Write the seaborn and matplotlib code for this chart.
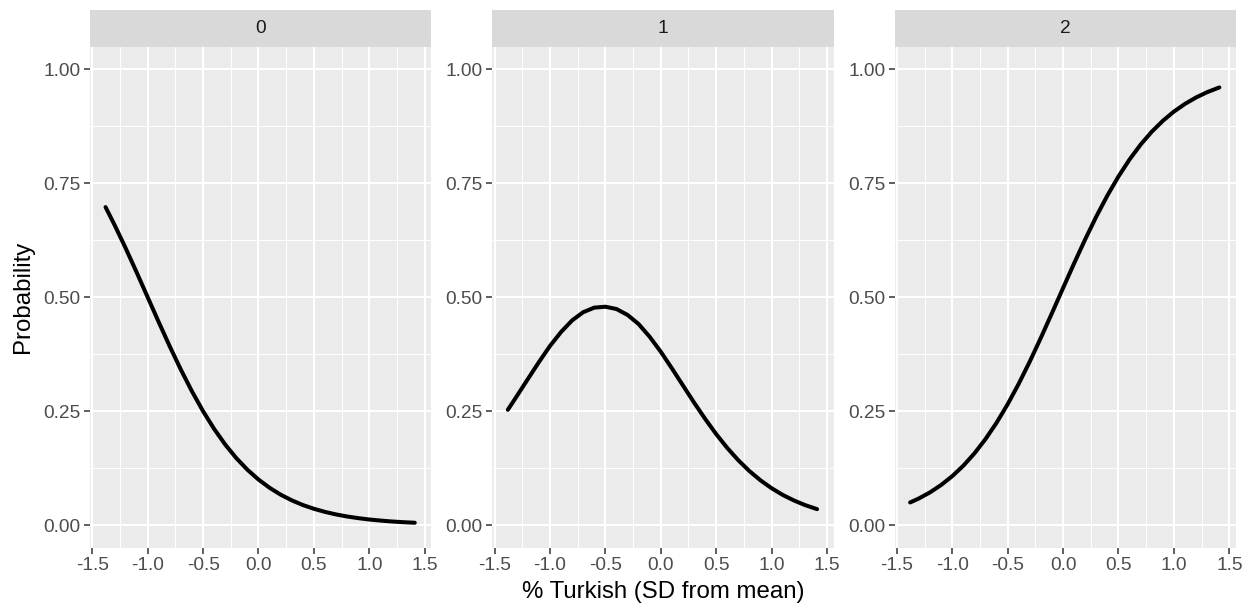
import pandas as pd
import matplotlib
matplotlib.use("Agg")
import matplotlib.pyplot as plt
from matplotlib.patches import Rectangle
import seaborn as sns

# Predicted probabilities
turkish_sd = [-1.38, -1.3, -1.2, -1.1, -1.0, -0.9, -0.8, -0.7, -0.6, -0.5,
              -0.4, -0.3, -0.2, -0.1, 0.0, 0.1, 0.2, 0.3, 0.4, 0.5,
              0.6, 0.7, 0.8, 0.9, 1.0, 1.1, 1.2, 1.3, 1.41]
prob_0 = [0.6977, 0.6592, 0.6083, 0.5548, 0.5000, 0.4452, 0.3917, 0.3408, 0.2932, 0.2497,
          0.2108, 0.1765, 0.1468, 0.1213, 0.0998, 0.0817, 0.0666, 0.0542, 0.0439, 0.0356,
          0.0288, 0.0232, 0.0187, 0.0151, 0.0121, 0.0098, 0.0078, 0.0063, 0.0050]
prob_1 = [0.2528, 0.2824, 0.3200, 0.3573, 0.3928, 0.4235, 0.4490, 0.4670, 0.4770, 0.4790,
          0.4740, 0.4610, 0.4410, 0.4130, 0.3802, 0.3439, 0.3063, 0.2688, 0.2330, 0.1995,
          0.1690, 0.1420, 0.1183, 0.0980, 0.0807, 0.0661, 0.0540, 0.0439, 0.0348]
prob_2 = [0.0495, 0.0584, 0.0717, 0.0879, 0.1072, 0.1301, 0.1571, 0.1885, 0.2244, 0.2650,
          0.3100, 0.3589, 0.4110, 0.4651, 0.5200, 0.5744, 0.6271, 0.6770, 0.7231, 0.7649,
          0.8022, 0.8348, 0.8630, 0.8869, 0.9072, 0.9241, 0.9382, 0.9498, 0.9602]
outcomes = ["0", "1", "2"]

x_ticks = [-1.5, -1.0, -0.5, 0.0, 0.5, 1.0, 1.5]
x_tick_labels = ["-1.5", "-1.0", "-0.5", "0.0", "0.5", "1.0", "1.5"]
y_ticks = [0.0, 0.25, 0.5, 0.75, 1.0]
y_tick_labels = ["0.00", "0.25", "0.50", "0.75", "1.00"]

# long format for the facet grid
frames = []
for outcome, probs in zip(outcomes, [prob_0, prob_1, prob_2]):
    frames.append(pd.DataFrame({"x": turkish_sd, "prob": probs, "outcome": outcome}))
df = pd.concat(frames, ignore_index=True)

sns.set_theme(style="darkgrid", rc={
    "axes.facecolor": "#EBEBEB",
    "grid.color": "white",
    "axes.edgecolor": "#EBEBEB",
})
plt.rcParams["font.family"] = ["Liberation Sans", "DejaVu Sans"]

g = sns.FacetGrid(df, col="outcome", col_order=outcomes, sharex=False, sharey=False)
g.map_dataframe(sns.lineplot, x="x", y="prob", color="black", linewidth=2.9, errorbar=None)
g.set_axis_labels("", "")
g.set_titles("")

fig = g.figure
fig.set_size_inches(12.52, 6.08)
fig.subplots_adjust(left=0.0719, right=0.9872, bottom=0.099, top=0.9235, wspace=0.1784)

for ax, outcome in zip(g.axes.flat, outcomes):
    ax.set_xlim(-1.52, 1.56)
    ax.set_ylim(-0.05, 1.05)
    ax.set_xticks(x_ticks)
    ax.set_xticklabels(x_tick_labels)
    ax.set_yticks(y_ticks)
    ax.set_yticklabels(y_tick_labels)
    ax.set_xticks([-1.25, -0.75, -0.25, 0.25, 0.75, 1.25], minor=True)
    ax.set_yticks([0.125, 0.375, 0.625, 0.875], minor=True)
    ax.grid(which="major", color="white", linewidth=1.45)
    ax.grid(which="minor", color="white", linewidth=0.7)
    ax.tick_params(which="major", length=4.3, width=1.1, color="#333333",
                   labelsize=13.8, labelcolor="#4D4D4D", pad=2.5, bottom=True, left=True)
    ax.tick_params(which="minor", length=0)
    for spine in ax.spines.values():
        spine.set_visible(False)
    # facet strip
    ax.add_patch(Rectangle((0, 1), 1, 0.0728, transform=ax.transAxes,
                           facecolor="#D9D9D9", edgecolor="none", clip_on=False))
    ax.text(0.5, 1.0364, outcome, transform=ax.transAxes, ha="center", va="center",
            fontsize=13.8, color="#1A1A1A")

fig.text(0.0184, 0.5115, "Probability", rotation=90, ha="center", va="center",
         fontsize=17.3, color="black")
fig.text(0.5296, 0.026, "% Turkish (SD from mean)", ha="center", va="center",
         fontsize=17.3, color="black")

fig.savefig("out.png", dpi=100, facecolor="white")
